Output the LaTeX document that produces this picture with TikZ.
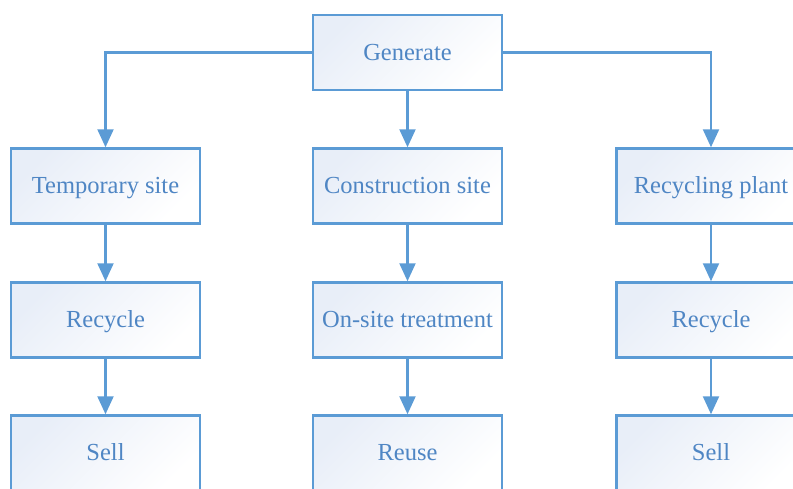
\documentclass[tikz,border=0pt]{standalone}
\usepackage{fontspec}
\setmainfont{Liberation Serif}
\usepackage{xcolor}
\usetikzlibrary{arrows.meta}
\definecolor{lineblue}{RGB}{91,155,213}
\definecolor{textblue}{RGB}{79,134,196}
\definecolor{boxtint}{RGB}{232,238,248}

\begin{document}
\begin{tikzpicture}[x=1pt,y=-1pt,
    box/.style={draw=lineblue,line width=2.5pt,minimum width=189pt,minimum height=75pt,
      left color=boxtint,right color=white,shading angle=45,
      text=textblue,font=\fontsize{24.5}{28}\selectfont,inner sep=0pt,
      text height=17.5pt,text depth=2.5pt},
    arr/.style={draw=lineblue,line width=2.2pt,-{Triangle[width=16pt,length=18pt]}}]
    \useasboundingbox (0,0) rectangle (793,488);
    \clip (0,0) rectangle (793,488);
    % top
    \node[box] (gen) at (407.5,52.5) {Generate};
    % sites
    \node[box] (temp) at (105.5,186) {Temporary site};
    \node[box] (cons) at (407.5,186) {Construction site};
    \node[box] (plant) at (711,186) {Recycling plant};
    % treatment
    \node[box] (rec1) at (105.5,320) {Recycle};
    \node[box] (onsite) at (407.5,320) {On-site treatment};
    \node[box] (rec2) at (711,320) {Recycle};
    % result
    \node[box] (sell1) at (105.5,453) {Sell};
    \node[box] (reuse) at (407.5,453) {Reuse};
    \node[box] (sell2) at (711,453) {Sell};
    \draw[arr] (gen.west) -| (temp.north);
    \draw[arr] (gen.south) -- (cons.north);
    \draw[arr] (gen.east) -| (plant.north);
    \draw[arr] (temp) -- (rec1);
    \draw[arr] (cons) -- (onsite);
    \draw[arr] (plant) -- (rec2);
    \draw[arr] (rec1) -- (sell1);
    \draw[arr] (onsite) -- (reuse);
    \draw[arr] (rec2) -- (sell2);
\end{tikzpicture}
\end{document}
